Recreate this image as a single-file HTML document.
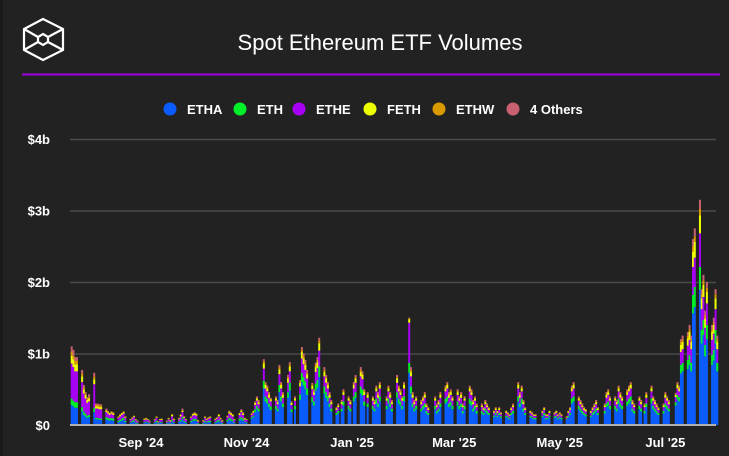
<!DOCTYPE html>
<html><head><meta charset="utf-8"><style>
html,body{margin:0;padding:0;background:#222222;}
body{width:729px;height:456px;overflow:hidden;position:relative;font-family:"Liberation Sans",sans-serif;}
#strip{position:absolute;left:0;top:0;width:3px;height:456px;background:#1a1a1a;}
</style></head><body>
<div id="strip"></div>
<svg id="chart" width="729" height="456" style="position:absolute;left:0;top:0">
  <g fill="none" stroke="#fff" stroke-width="2.2">
    <polygon points="43,19 63,29 63,50 43,60 24,50 24,29"/>
    <polygon points="43,34 48,37 48,42 43,45 38,42 38,37"/>
    <line x1="24" y1="29" x2="38" y2="37"/><line x1="63" y1="29" x2="48" y2="37"/>
    <line x1="24" y1="50" x2="38" y2="42"/><line x1="63" y1="50" x2="48" y2="42"/>
  </g>
  <text x="380" y="50" fill="#fff" font-size="22" text-anchor="middle">Spot Ethereum ETF Volumes</text>
  <line x1="22" y1="74.5" x2="720" y2="74.5" stroke="#a000e0" stroke-width="2"/>
  <g id="legend"></g>
  <g id="grid"></g>
  <g id="bars"></g>
  <g id="axes"></g>
</svg>
<script>
const seriesNames=["ETHA","ETH","ETHE","FETH","ETHW","4 Others"];
const seriesColors=["#0a5cff","#00f028","#a800f5","#eeff00","#d99a00","#c86070"];
const yTicks=[0,1,2,3,4];
const yTickLabels=["$0","$1b","$2b","$3b","$4b"];
const xTickDates=["2024-09-01","2024-11-01","2025-01-01","2025-03-01","2025-05-01","2025-07-01"];
const xTickLabels=["Sep '24","Nov '24","Jan '25","Mar '25","May '25","Jul '25"];
const startDate="2024-07-23";
// values in $10M, consecutive weekdays from startDate (0 = market closed)
const ETHA=[28,26,24,24, 19,14,12,10,11, 18,8,8,7,7, 8,7,6,7,6, 4,5,6,7,4, 3,4,5,3,2, 0,3,4,3,2, 3,4,2,3,3, 2,4,2,5,3, 4,5,8,4,3, 4,6,6,6,2, 2,4,3,4,4, 3,4,5,4,2, 5,7,6,5,3, 6,8,6,4,3, 9,11,18,22,19, 51,33,30,25,21, 22,19,46,33,25, 38,48,18,0,22, 35,60,55,50,42, 32,27,48,52,67, 44,38,33,25,19, 14,16,0,19,27, 22,19,0,33,38, 44,41,27,0,25, 22,19,30,25,33, 0,22,30,25,19, 38,30,27,22,33, 73,44,25,19,22, 19,22,25,16,14, 0,22,16,19,25, 30,33,25,27,22, 27,22,25,16,22, 30,27,19,22,16, 16,14,19,16,14, 11,14,11,14,10, 11,10,8,14,16, 33,25,30,19,14, 11,10,8,8,0, 11,14,8,8,11, 10,11,8,10,8, 7,11,14,30,33, 22,19,16,14,12, 11,14,16,19,14, 0,16,25,27,22, 22,19,30,25,22, 27,30,33,19,16, 22,19,0,16,25, 30,22,19,16,14, 16,25,22,19,0, 27,36,33,72,75, 78,84,75,156,165, 189,114,126,96,120, 84,90,114,75];
const ETH=[9,8,8,8, 6,5,4,3,3, 6,2,2,2,2, 3,3,3,3,3, 2,2,3,3,2, 1,2,2,1,1, 0,1,1,1,1, 1,2,1,1,1, 1,1,1,2,1, 1,2,3,2,1, 2,2,3,2,1, 1,2,1,2,2, 1,2,2,1,1, 2,3,3,2,1, 3,3,3,1,1, 2,2,4,5,4, 11,7,7,5,5, 5,4,10,7,5, 8,11,4,0,5, 8,13,12,11,9, 7,6,10,11,15, 10,8,7,5,4, 3,4,0,4,6, 5,4,0,7,8, 10,9,6,0,5, 5,4,7,5,7, 0,5,7,5,4, 8,7,6,5,7, 14,10,5,4,5, 4,5,5,4,3, 0,5,4,4,5, 7,7,5,6,5, 6,5,5,4,5, 7,6,4,5,4, 4,3,4,4,3, 2,3,2,3,2, 2,2,2,3,4, 7,5,7,4,3, 2,2,2,2,0, 2,3,2,2,2, 2,2,2,2,2, 1,2,3,7,7, 5,4,4,3,3, 2,3,4,4,3, 0,4,5,6,5, 5,4,7,5,5, 6,7,7,4,4, 5,4,0,4,5, 7,5,4,4,3, 4,5,5,4,0, 5,6,6,12,12, 13,14,12,26,28, 32,19,21,16,20, 14,15,19,12];
const ETHE=[49,47,43,43, 35,25,21,18,19, 33,13,13,13,13, 7,6,5,6,5, 4,5,5,6,4, 3,3,4,3,2, 0,3,3,3,2, 3,4,1,3,3, 2,3,2,5,3, 3,5,7,4,3, 4,5,5,5,2, 2,4,3,3,4, 3,3,5,3,2, 4,6,5,5,3, 5,7,5,3,3, 3,4,6,7,6, 17,11,10,8,7, 7,6,15,11,8, 13,16,6,0,7, 11,20,18,16,14, 11,9,16,17,22, 14,13,11,8,6, 4,5,0,6,9, 7,6,0,11,13, 14,14,9,0,8, 7,6,10,8,11, 0,7,10,8,6, 13,10,9,7,11, 56,14,8,6,7, 6,7,8,5,4, 0,7,5,6,8, 10,11,8,9,7, 9,7,8,5,7, 10,9,6,7,5, 5,4,6,5,4, 4,4,4,4,3, 4,3,3,4,5, 11,8,10,6,4, 4,3,3,3,0, 4,4,3,3,4, 3,4,3,3,3, 2,4,4,10,11, 7,6,5,4,4, 4,4,5,6,4, 0,5,8,9,7, 7,6,10,8,7, 9,10,11,6,5, 7,6,0,5,8, 10,7,6,5,4, 5,8,7,6,0, 7,9,8,18,19, 20,21,19,39,41, 47,29,32,24,30, 21,23,29,19];
const FETH=[11,11,10,10, 8,6,5,4,4, 7,3,3,3,3, 2,2,2,2,2, 1,2,2,2,1, 1,1,1,1,1, 0,1,1,1,1, 1,1,1,1,1, 1,1,1,2,1, 1,2,2,1,1, 1,2,2,2,1, 1,1,1,1,1, 1,1,2,1,1, 1,2,2,2,1, 2,2,2,1,1, 1,2,3,3,3, 7,5,4,4,3, 3,3,7,5,4, 6,7,3,0,3, 5,9,8,7,6, 5,4,7,8,10, 6,6,5,4,3, 2,2,0,3,4, 3,3,0,5,6, 6,6,4,0,4, 3,3,4,4,5, 0,3,4,4,3, 6,4,4,3,5, 5,6,4,3,3, 3,3,4,2,2, 0,3,2,3,4, 4,5,4,4,3, 4,3,4,2,3, 4,4,3,3,2, 2,2,3,2,2, 2,2,2,2,1, 2,1,1,2,2, 5,4,4,3,2, 2,1,1,1,0, 2,2,1,1,2, 1,2,1,1,1, 1,2,2,4,5, 3,3,2,2,2, 2,2,2,3,2, 0,2,4,4,3, 3,3,4,4,3, 4,4,5,3,2, 3,3,0,2,4, 4,3,3,2,2, 2,4,3,3,0, 3,5,4,10,10, 10,11,10,21,22, 25,15,17,13,16, 11,12,15,10];
const ETHW=[6,5,5,5, 4,3,2,2,2, 4,2,2,2,2, 1,1,1,1,1, 1,1,1,1,1, 0,1,1,0,0, 0,1,1,0,0, 0,1,0,0,1, 0,1,1,1,1, 1,1,1,1,0, 1,1,1,1,1, 1,1,1,1,1, 1,1,1,1,1, 1,1,1,1,0, 1,1,1,1,0, 1,1,1,1,1, 3,2,2,2,1, 1,1,3,2,2, 2,3,1,0,1, 2,3,3,3,2, 2,2,3,3,4, 3,2,2,2,1, 1,1,0,1,2, 1,1,0,2,2, 3,2,2,0,2, 1,1,2,2,2, 0,1,2,2,1, 2,2,2,1,2, 1,3,2,1,1, 1,1,2,1,1, 0,1,1,1,2, 2,2,2,2,1, 2,1,2,1,1, 2,2,1,1,1, 1,1,1,1,1, 1,1,1,1,1, 1,1,1,1,1, 2,2,2,1,1, 1,1,1,1,0, 1,1,1,1,1, 1,1,1,1,1, 1,1,1,2,2, 1,1,1,1,1, 1,1,1,1,1, 0,1,2,2,1, 1,1,2,2,1, 2,2,2,1,1, 1,1,0,1,2, 2,1,1,1,1, 1,2,1,1,0, 1,2,2,4,4, 4,4,4,8,8, 9,6,6,5,6, 4,4,6,4];
const OTHERS=[7,8,5,5, 5,3,2,2,4, 5,2,2,2,2, 2,1,0,0,1, 0,0,0,0,0, 0,0,0,0,0, 0,0,0,0,0, 0,0,0,0,0, 0,0,0,0,0, 0,0,2,0,0, 0,0,1,0,0, 0,0,0,0,0, 0,0,0,0,0, 0,1,1,0,0, 0,1,1,0,0, 1,0,1,2,2, 3,2,2,2,1, 2,2,3,2,2, 3,3,1,0,2, 2,4,4,4,4, 2,2,3,4,4, 4,3,2,2,2, 1,2,0,2,2, 2,2,0,2,3, 4,3,2,0,2, 2,2,2,2,2, 0,2,2,2,2, 3,2,2,2,2, 1,4,2,2,2, 2,2,2,2,1, 0,2,2,2,2, 2,2,2,2,2, 2,2,2,2,2, 2,2,2,2,2, 2,1,2,2,1, 0,1,0,1,1, 0,1,0,1,2, 2,2,2,2,1, 0,1,0,0,0, 0,1,0,0,0, 1,0,0,1,0, 0,0,1,2,2, 2,2,2,1,0, 0,1,2,2,1, 0,2,2,2,2, 2,2,2,2,2, 2,2,2,2,2, 2,2,0,2,2, 2,2,2,2,1, 2,2,2,2,0, 2,2,2,4,5, 5,6,5,10,11, 13,7,8,6,8, 6,6,7,5];
const allSeries=[ETHA,ETH,ETHE,FETH,ETHW,OTHERS];

const NS="http://www.w3.org/2000/svg";
const X0=70,X1=716,Y0=425,YTOP=139;
const d0=Date.UTC(2024,6,22), dEnd=Date.UTC(2025,7,1);
function xScale(t){return X0+(t-d0)/(dEnd-d0)*(X1-X0+3);}
function yScale(v){return Y0-v/4*(Y0-YTOP);} // v in $b
function mk(tag,attrs,parent){const e=document.createElementNS(NS,tag);for(const k in attrs)e.setAttribute(k,attrs[k]);parent.appendChild(e);return e;}
const grid=document.getElementById('grid'),axes=document.getElementById('axes'),bars=document.getElementById('bars'),legend=document.getElementById('legend');
yTicks.forEach((v,i)=>{
  if(v>0){const l=mk('line',{x1:X0,x2:X1,y1:yScale(v)+0.5,y2:yScale(v)+0.5,stroke:'#4a4a4a','stroke-width':1.5},grid);
  
  }
  const t=mk('text',{x:50,y:yScale(v)+5,fill:'#fff','font-size':13,'font-weight':'bold','text-anchor':'end'},axes);
  t.textContent=yTickLabels[i];
  
  
});
const ax=mk('line',{x1:X0,x2:X1,y1:Y0,y2:Y0,stroke:'#b0b0b0','stroke-width':2},axes);


xTickDates.forEach((ds,i)=>{
  const p=ds.split('-');const t=Date.UTC(+p[0],+p[1]-1,+p[2]);
  const tx=mk('text',{x:xScale(t),y:447,fill:'#fff','font-size':13,'font-weight':'bold','text-anchor':'middle'},axes);
  tx.textContent=xTickLabels[i];
  
  
});
const sp=startDate.split('-');let day=Date.UTC(+sp[0],+sp[1]-1,+sp[2]);
const dates=[];
while(dates.length<ETHA.length){const wd=new Date(day).getUTCDay();if(wd!==0&&wd!==6)dates.push(day);day+=86400000;}
const bw=2.0;
dates.forEach((t,i)=>{
  let acc=0;const cx=xScale(t);
  allSeries.forEach((s,k)=>{
    const v=s[i]/100; if(v<=0)return;
    const yTop=yScale(acc+v),yBot=yScale(acc);
    const r=mk('rect',{x:cx-bw/2,y:yTop,width:bw,height:yBot-yTop,fill:seriesColors[k]},bars);
    
    
    acc+=v;
  });
});
const legX=[170,240,299,370,439,513];
seriesNames.forEach((n,k)=>{
  const g=mk('g',{},legend);
  
  
  mk('circle',{cx:legX[k],cy:109,r:6.5,fill:seriesColors[k]},g);
  const t=mk('text',{x:legX[k]+17,y:114,fill:'#fff','font-size':13,'font-weight':'bold'},g);
  t.textContent=n;
});
</script>
</body></html>
